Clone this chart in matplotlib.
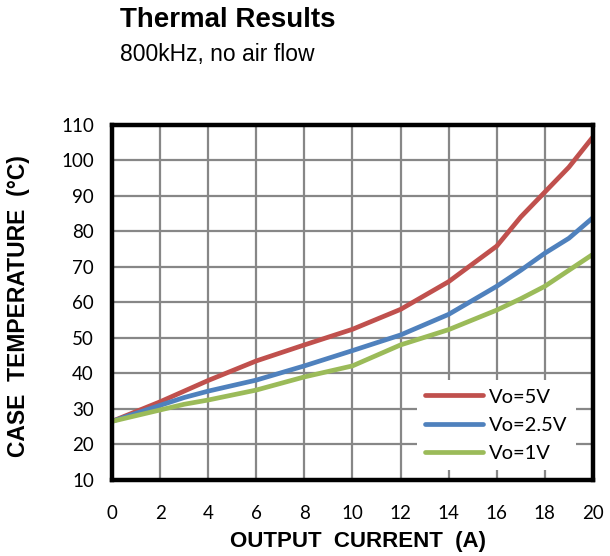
import matplotlib
matplotlib.use('Agg')
import matplotlib.pyplot as plt

plt.rcParams['font.family'] = ['Liberation Sans', 'DejaVu Sans']

# output current (A)
current = [0, 2, 3, 4, 6, 8, 10, 12, 14, 16, 17, 18, 19, 20]

# case temperature (°C)
temp_5v = [26.5, 32.0, 35.0, 38.0, 43.5, 48.0, 52.4, 58.0, 65.8, 75.8, 84.0, 91.0, 98.0, 106.5]
temp_2v5 = [26.5, 31.0, 33.2, 35.0, 38.1, 42.1, 46.4, 50.8, 56.6, 64.5, 69.0, 73.8, 78.0, 83.8]
temp_1v = [26.5, 29.7, 31.3, 32.5, 35.3, 39.0, 42.1, 48.0, 52.3, 57.8, 61.0, 64.5, 69.0, 73.5]

labels = ['Vo=5V', 'Vo=2.5V', 'Vo=1V']
colors = ['#C0504D', '#4F81BD', '#9BBB59']

fig = plt.figure(figsize=(6.1, 5.56), dpi=100)
ax = fig.add_axes([0.1836, 0.1367, 0.7884, 0.6393])

for y, lab, c in zip([temp_5v, temp_2v5, temp_1v], labels, colors):
    ax.plot(current, y, color=c, lw=3.4, label=lab, solid_capstyle='round')

ax.set_xlim(0, 20)
ax.set_ylim(10, 110)
ax.set_xticks(range(0, 21, 2))
ax.set_yticks(range(10, 111, 10))
ax.grid(True, color='#878787', lw=1.6)
ax.set_axisbelow(True)
ax.tick_params(length=0, labelsize=13.5)
ax.tick_params(axis='x', pad=18)
ax.tick_params(axis='y', pad=13)
for t in ax.get_xticklabels() + ax.get_yticklabels():
    t.set_fontfamily(['Lato', 'DejaVu Sans'])

for s in ax.spines.values():
    s.set_linewidth(3.2)
    s.set_color('black')

ax.set_xlabel('OUTPUT  CURRENT  (A)', fontsize=16, fontweight='bold')
ax.set_ylabel('CASE  TEMPERATURE  (°C)', fontsize=16.5, fontweight='bold')
ax.xaxis.set_label_coords(0.511, -0.174)
ax.xaxis.label.set_va('center')
ax.yaxis.set_label_coords(-0.195, 0.49)
ax.yaxis.label.set_va('center')

leg = ax.legend(loc='lower right', bbox_to_anchor=(0.985, 0.0),
                prop={'family': ['Lato', 'DejaVu Sans'], 'size': 14.5},
                frameon=True, fancybox=False,
                handlelength=2.9, handletextpad=0.3, labelspacing=0.55,
                borderpad=0.4)
leg.get_frame().set_edgecolor('none')
leg.get_frame().set_facecolor('white')
leg.get_frame().set_alpha(1)

fig.text(120 / 610, 1 - 20 / 556, 'Thermal Results', fontsize=20, fontweight='bold',
         va='center', ha='left')
fig.text(120 / 610, 1 - 55 / 556, '800kHz, no air flow', fontsize=16.5,
         va='center', ha='left')

fig.savefig('out.png', dpi=100)
